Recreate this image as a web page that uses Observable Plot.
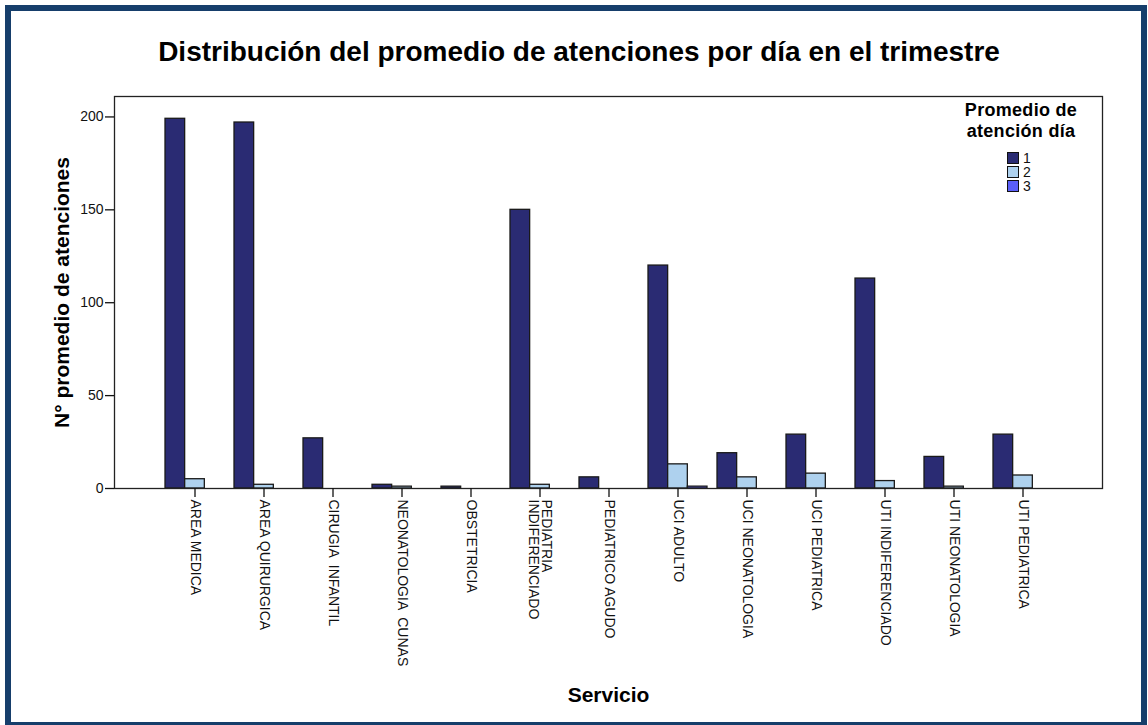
<!DOCTYPE html>
<html>
<head>
<meta charset="utf-8">
<script src="https://cdn.jsdelivr.net/npm/d3@7"></script>
<script src="https://cdn.jsdelivr.net/npm/@observablehq/plot@0.6"></script>
<style>
  html, body { margin: 0; padding: 0; background: #fff; }
  #wrap { position: relative; width: 1148px; height: 725px; overflow: hidden; font-family: "Liberation Sans", Arial, sans-serif; }
  #border { position: absolute; left: 5px; top: 5px; width: 1142px; height: 723px; box-sizing: border-box; border: 6px solid #163e6b; }
  #title { position: absolute; left: 0; top: 36px; width: 1158px; text-align: center; font-weight: bold; font-size: 28px; line-height: 32px; color: #000; }
  #chart { position: absolute; left: 0; top: 80px; }
  #legend { position: absolute; left: 940px; top: 100px; width: 162px; font-family: "Liberation Sans", Arial, sans-serif; }
  #legend .lt { text-align: center; font-weight: bold; font-size: 18px; line-height: 21px; color: #000; letter-spacing: 0.3px; }
  #legend .items { margin-left: 67px; margin-top: 9px; }
  #legend .it { display: flex; align-items: center; height: 14px; font-size: 14px; line-height: 14px; color: #111; }
  #legend .sw { width: 10px; height: 10px; border: 1px solid #111; margin-right: 4px; }
</style>
</head>
<body>
<div id="wrap">
  <div id="border"></div>
  <div id="title"></div>
  <div id="chart"></div>
  <div id="legend"></div>
</div>
<script>
const chartTitle = "Distribución del promedio de atenciones por día en el trimestre";
const yTitle = "N° promedio de atenciones";
const xTitle = "Servicio";
const legendTitle = ["Promedio de", "atención día"];

const categories = [
  "AREA MEDICA", "AREA QUIRURGICA", "CIRUGIA INFANTIL", "NEONATOLOGIA CUNAS",
  "OBSTETRICIA", "PEDIATRIA INDIFERENCIADO", "PEDIATRICO AGUDO", "UCI ADULTO",
  "UCI NEONATOLOGIA", "UCI PEDIATRICA", "UTI INDIFERENCIADO", "UTI NEONATOLOGIA",
  "UTI PEDIATRICA"
];
const tickLabels = [
  "AREA MEDICA", "AREA QUIRURGICA", "CIRUGIA  INFANTIL", "NEONATOLOGIA  CUNAS",
  "OBSTETRICIA", "PEDIATRIA\nINDIFERENCIADO", "PEDIATRICO AGUDO", "UCI ADULTO",
  "UCI NEONATOLOGIA", "UCI PEDIATRICA", "UTI INDIFERENCIADO", "UTI NEONATOLOGIA",
  "UTI PEDIATRICA"
];
const series = ["1", "2", "3"];
const values1 = [199, 197, 27, 2, 1, 150, 6, 120, 19, 29, 113, 17, 29];
const values2 = [5, 2, 0, 1, 0, 2, 0, 13, 6, 8, 4, 1, 7];
const values3 = [0, 0, 0, 0, 0, 0, 0, 1, 0, 0, 0, 0, 0];
const colors = ["#2a2b73", "#aed1ee", "#5b5ff7"];
const yTicks = [0, 50, 100, 150, 200];

const allValues = [values1, values2, values3];
const data = [];
series.forEach((s, i) => categories.forEach((c, j) => data.push({category: c, series: s, value: allValues[i][j]})));

document.getElementById("title").textContent = chartTitle;

const W = 1148, H = 645;
const mL = 114, mR = 46, mT = 16, mB = 237;
const padIn = 0.15, padOut = 0.69;
const band = d3.scaleBand().domain(categories).range([mL, W - mR]).paddingInner(padIn).paddingOuter(padOut);
const sub = band.bandwidth() / series.length;

const labelOf = new Map(categories.map((c, i) => [c, tickLabels[i]]));

const barMarks = series.map((s, i) =>
  Plot.barY(data.filter(d => d.series === s && d.value > 0), {
    x: "category", y: "value", fill: "series",
    stroke: "#1a1a1a", strokeWidth: 1.3,
    insetLeft: i * sub, insetRight: (series.length - 1 - i) * sub
  })
);

const chart = Plot.plot({
  width: W, height: H,
  marginLeft: mL, marginRight: mR, marginTop: mT, marginBottom: mB,
  style: {fontFamily: "'Liberation Sans', Arial, sans-serif", color: "#111", background: "transparent", overflow: "visible"},
  x: {type: "band", domain: categories, paddingInner: padIn, paddingOuter: padOut},
  y: {domain: [0, 211]},
  color: {domain: series, range: colors},
  marks: [
    ...barMarks,
    Plot.frame({stroke: "#222", strokeWidth: 1.3}),
    Plot.axisY({ticks: yTicks, tickSize: 9, tickPadding: 2, fontSize: 14, label: null, strokeWidth: 1.3}),
    Plot.axisX({tickSize: 9, tickPadding: 2, tickRotate: 90, fontSize: 14, label: null, strokeWidth: 1.3,
      tickFormat: d => labelOf.get(d), lineHeight: 0.95}),
    Plot.text([yTitle], {text: d => d, frameAnchor: "left", textAnchor: "middle", dx: -52, rotate: -90, fontSize: 21, fontWeight: "bold", fill: "#000"}),
    Plot.text([xTitle], {text: d => d, frameAnchor: "bottom", textAnchor: "middle", dy: 213, fontSize: 21, fontWeight: "bold", fill: "#000"})
  ]
});
document.getElementById("chart").appendChild(chart);

const legend = document.getElementById("legend");
const lt = document.createElement("div");
lt.className = "lt";
lt.innerHTML = legendTitle.join("<br>");
legend.appendChild(lt);
const items = document.createElement("div");
items.className = "items";
series.forEach((s, i) => {
  const it = document.createElement("div");
  it.className = "it";
  const sw = document.createElement("div");
  sw.className = "sw";
  sw.style.background = colors[i];
  const tx = document.createElement("span");
  tx.textContent = s;
  it.appendChild(sw);
  it.appendChild(tx);
  items.appendChild(it);
});
legend.appendChild(items);
</script>
</body>
</html>
